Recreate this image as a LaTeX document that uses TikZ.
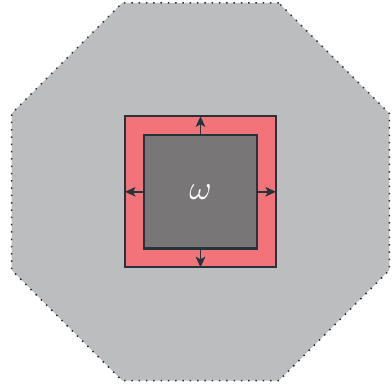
\documentclass[tikz,border=0pt]{standalone}
\usepackage{graphicx}
\usetikzlibrary{shapes.geometric, arrows.meta}
\definecolor{domaingray}{RGB}{188,189,191}
\definecolor{layerred}{RGB}{243,115,122}
\definecolor{coregray}{RGB}{120,118,119}
\definecolor{edgedark}{RGB}{36,52,56}

\begin{document}
\begin{tikzpicture}[x=1pt, y=1pt, >={Stealth[length=10.5pt, width=9.5pt, inset=2.5pt]},
  region/.style={draw=edgedark, line width=2.2pt, minimum size=#1, inner sep=0pt, outer sep=0pt}]
  \useasboundingbox (-200.5,-192.2) rectangle (191.5,191.8);
  \node[regular polygon, regular polygon sides=8, minimum size=409pt, inner sep=0pt,
    fill=domaingray, draw=edgedark, line width=1.5pt, dash pattern=on 1.5pt off 5.8pt] (D) at (0,0) {};
  \node[region=151pt, fill=layerred] (L) at (0,0) {};
  \node[region=113.5pt, fill=coregray, text=white] (W) at (0,0) {\raisebox{-1.5pt}{\scalebox{3.4}{$\omega$}}};
  \foreach \side in {north, south, east, west}
    \draw[->, line width=1.8pt, edgedark] (W.\side) -- (L.\side);
\end{tikzpicture}
\end{document}
